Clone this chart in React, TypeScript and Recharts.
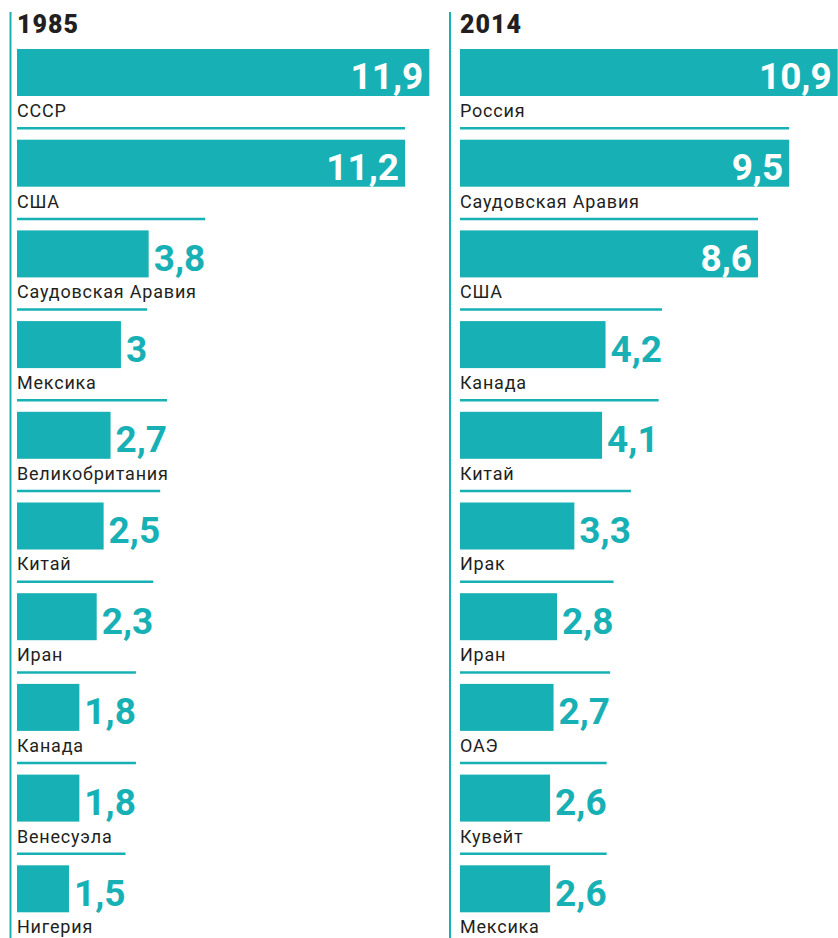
import { BarChart, Bar, XAxis, YAxis } from 'recharts';

// Oil production, mln barrels per day
const countries1985 = ['СССР', 'США', 'Саудовская Аравия', 'Мексика', 'Великобритания', 'Китай', 'Иран', 'Канада', 'Венесуэла', 'Нигерия'];
const values1985 = [11.9, 11.2, 3.8, 3, 2.7, 2.5, 2.3, 1.8, 1.8, 1.5];

const countries2014 = ['Россия', 'Саудовская Аравия', 'США', 'Канада', 'Китай', 'Ирак', 'Иран', 'ОАЭ', 'Кувейт', 'Мексика'];
const values2014 = [10.9, 9.5, 8.6, 4.2, 4.1, 3.3, 2.8, 2.7, 2.6, 2.6];

const years = ['1985', '2014'];

const TEAL = '#17b1b5';
const INK = '#231f20';
const DOMAIN_MAX = 12;
const PX_PER_UNIT = 34.65;
const INSIDE_MIN = 8; // values from here on get their label inside the bar
const VALUE_FONT = '700 37px Roboto';

const CHART_W = 7 + DOMAIN_MAX * PX_PER_UNIT;
const CHART_H = 938;

const measureCtx = typeof document !== 'undefined' ? document.createElement('canvas').getContext('2d') : null;
function textWidth(text: string, font: string) {
  if (!measureCtx) return text.length * 18;
  measureCtx.font = font;
  return measureCtx.measureText(text).width;
}

const fmt = (v: number) => String(v).replace('.', ',');

function RowShape(props: any) {
  const { x, y, width, height, payload } = props;
  const label = fmt(payload.value);
  const inside = payload.value >= INSIDE_MIN;
  const tw = textWidth(label, VALUE_FONT);
  const lineEnd = inside ? x + width : x + width + 5 + tw;
  return (
    <g>
      {payload.i > 0 && (
        <line x1={x} x2={lineEnd} y1={y - 11.5} y2={y - 11.5} stroke={TEAL} strokeWidth={2.5} />
      )}
      <rect x={x} y={y} width={width} height={height} fill={TEAL} />
      <text
        x={inside ? x + width - 6 : x + width + 5}
        y={y + height - 6.5}
        textAnchor={inside ? 'end' : 'start'}
        fill={inside ? '#ffffff' : TEAL}
        style={{ font: VALUE_FONT }}
      >
        {label}
      </text>
      <text
        x={x}
        y={y + height + 21}
        fill={INK}
        style={{ fontFamily: 'Roboto', fontWeight: 400, fontSize: 18, letterSpacing: 0.8 }}
      >
        {payload.name}
      </text>
    </g>
  );
}

function Panel({ names, values, left }: { names: string[]; values: number[]; left: number }) {
  const data = names.map((name, i) => ({ name, value: values[i], i }));
  return (
    <div style={{ position: 'absolute', left, top: 0 }}>
      <BarChart
        width={CHART_W}
        height={CHART_H}
        data={data}
        layout="vertical"
        margin={{ top: 27, right: 0, bottom: 4, left: 7 }}
      >
        <XAxis type="number" domain={[0, DOMAIN_MAX]} hide />
        <YAxis type="category" dataKey="name" hide />
        <Bar dataKey="value" barSize={47} shape={RowShape} isAnimationActive={false} />
      </BarChart>
    </div>
  );
}

const titleStyle = { fontFamily: 'Roboto', fontWeight: 900, fontSize: 25, letterSpacing: 1 };

export default function App() {
  return (
    <div style={{ position: 'absolute', left: 0, top: 0, width: 838, height: 938, overflow: 'hidden', background: '#fff' }}>
      <svg width={838} height={938} style={{ position: 'absolute', left: 0, top: 0 }}>
        <line x1={10.5} x2={10.5} y1={12} y2={938} stroke={TEAL} strokeWidth={2} />
        <line x1={450} x2={450} y1={12} y2={938} stroke={TEAL} strokeWidth={2} />
        <text x={17} y={33} fill={INK} style={titleStyle}>
          {years[0]}
        </text>
        <text x={460} y={33} fill={INK} style={titleStyle}>
          {years[1]}
        </text>
      </svg>
      <Panel names={countries1985} values={values1985} left={10} />
      <Panel names={countries2014} values={values2014} left={453} />
    </div>
  );
}
